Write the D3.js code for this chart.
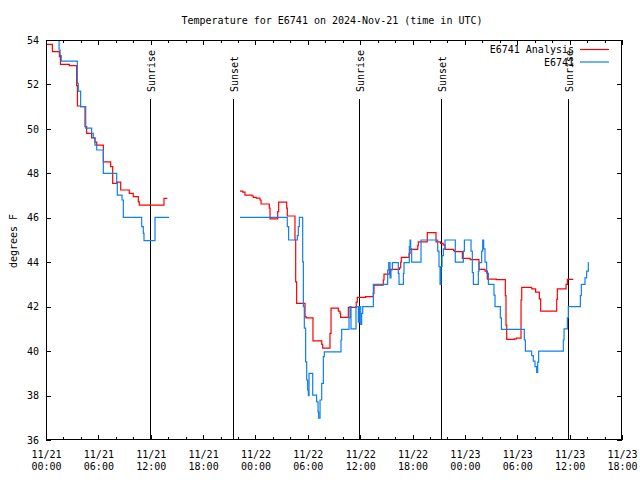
<!DOCTYPE html>
<html><head><meta charset="utf-8">
<script src="https://cdn.jsdelivr.net/npm/d3@7"></script>
<style>
body{margin:0;background:#fff}
svg text{font-family:"DejaVu Sans Mono","Liberation Mono",monospace;font-size:10px;fill:#000}
</style>
</head><body>
<svg id="chart" width="640" height="480"></svg>
<script>
// ---------------- data ----------------
const titleText = "Temperature for E6741 on 2024-Nov-21 (time in UTC)";
const yLabel = "degrees F";
const startUtc = Date.UTC(2024, 10, 21, 0, 0);   // hours below are offsets from this time
const endHours = 66;
const xMajorTickHours = [0, 6, 12, 18, 24, 30, 36, 42, 48, 54, 60, 66];
const xMinorTickHours = [2, 4, 8, 10, 14, 16, 20, 22, 26, 28, 32, 34, 38, 40, 44, 46, 50, 52, 56, 58, 62, 64];
const yTicks = [36, 38, 40, 42, 44, 46, 48, 50, 52, 54];
const seriesNames = ["E6741 Analysis", "E6741"];

const sunLabels = ["Sunrise", "Sunset", "Sunrise", "Sunset", "Sunrise"];
const sunHours  = [11.95, 21.37, 35.9, 45.3, 59.85];

// E6741 Analysis (red), step data; null = gap
const redHours = [0.0,0.73,1.53,1.65,2.67,3.51,3.6,3.97,4.47,4.66,5.23,5.61,5.81,6.57,7.41,7.64,8.17,8.56,9.55,10.0,10.58,10.69,13.52,13.9,
  14.0,
  22.23,22.55,22.8,23.6,23.76,24.1,24.52,24.64,25.59,25.67,26.55,26.66,27.58,27.65,28.53,28.61,28.72,29.68,29.8,30.59,31.6,31.7,32.54,32.66,33.5,33.69,33.76,34.64,35.55,35.67,36.6,37.5,37.58,38.65,38.73,39.34,40.5,40.64,40.71,41.6,41.71,42.6,42.66,43.69,44.69,45.2,45.5,45.72,46.7,46.79,47.71,48.6,49.61,50.3,50.57,51.6,52.63,52.71,52.79,53.65,53.9,54.43,54.51,55.65,56.1,56.53,56.68,58.52,58.59,59.59,59.74,60.42];
const redTemps = [53.8,53.48,53.25,52.9,52.85,51.95,51.03,51.0,50.1,49.8,49.6,49.4,49.27,48.52,48.3,47.55,47.6,47.25,47.1,46.95,46.72,46.57,46.87,46.87,
  null,
  47.2,47.15,47.02,46.98,46.92,46.88,46.8,46.62,46.43,45.95,46.28,46.7,46.43,46.08,45.0,43.12,42.15,41.55,41.5,40.46,40.3,40.13,40.8,41.93,41.8,41.7,41.52,41.97,42.2,42.42,42.45,42.6,42.97,43.2,43.46,43.68,43.75,44.0,44.22,44.4,44.58,44.75,44.92,45.33,44.92,44.85,44.78,44.58,44.53,44.48,44.17,44.12,43.68,43.6,43.24,43.22,42.5,41.17,40.53,40.55,40.58,42.3,42.87,42.8,42.65,42.35,41.8,42.33,42.8,43.0,43.23,43.23];

// E6741 observations (blue)
const blueHours = [1.4,1.5,1.62,1.75,3.59,3.7,3.97,4.55,5.23,5.42,5.61,5.81,6.57,8.1,8.17,8.71,8.86,10.96,11.15,11.23,12.49,14.1,
  14.2,
  22.23,27.65,27.8,28.8,28.91,29.03,29.41,29.49,29.6,29.75,29.87,29.98,30.06,30.14,30.56,31.01,31.17,31.24,31.4,31.59,31.78,31.89,33.8,33.88,34.72,34.83,34.95,35.52,35.79,35.9,36.06,36.17,36.29,37.51,39.15,39.27,39.42,39.53,39.69,40.37,40.45,40.95,41.02,41.63,41.71,41.79,41.9,42.97,
  44.88,45.03,45.15,45.26,45.38,45.53,45.72,46.9,47.82,47.94,48.7,48.85,48.97,49.54,49.62,49.92,50.04,50.15,50.3,50.49,50.69,51.33,51.45,52.06,52.18,54.81,54.93,55.65,55.84,56.03,56.22,56.34,56.45,59.28,59.36,59.74,59.85,61.23,61.34,61.76,61.95,62.14,62.18];
const blueTemps = [54.4,53.55,53.3,53.05,52.05,51.7,51.0,50.03,49.8,49.6,49.27,49.05,48.0,47.55,47.02,46.8,46.02,45.6,45.3,44.97,46.02,46.02,
  null,
  46.02,45.6,45.0,45.2,45.6,46.02,44.02,42.0,41.03,39.52,38.7,38.25,38.0,39.0,38.02,37.72,37.27,36.98,37.8,38.55,39.75,39.97,40.5,40.98,41.5,42.0,41.0,42.0,41.3,42.0,41.2,41.7,42.0,43.0,43.65,43.98,43.3,43.65,43.98,43.5,43.0,43.5,43.98,44.7,45.0,44.6,44.0,45.0,
  44.5,43.8,43.0,43.8,44.3,44.6,45.0,44.0,44.5,45.0,44.5,43.53,43.0,43.6,43.98,44.5,45.0,44.6,44.0,43.5,43.0,42.52,42.0,41.5,40.98,40.5,40.0,39.8,39.55,39.3,39.04,39.5,40.0,40.5,41.0,41.5,42.0,42.5,43.0,43.3,43.6,43.98,43.98];

// ---------------- drawing ----------------
const toDate = h => new Date(startUtc + h * 3600e3);
const L = 46, R = 622, T = 40, B = 440;
const svg = d3.select("#chart");

const x = d3.scaleUtc().domain([toDate(0), toDate(endHours)]).range([L, R]);
const y = d3.scaleLinear().domain([36, 54]).range([B, T]);

svg.append("defs").append("clipPath").attr("id", "plotclip")
  .append("rect").attr("x", L).attr("y", T).attr("width", R - L).attr("height", B - T);

// title
svg.append("text").attr("x", 332).attr("y", 24).attr("text-anchor", "middle").text(titleText);
// y label
svg.append("text").attr("transform", "translate(13,241) rotate(-90)")
  .attr("text-anchor", "middle").attr("dominant-baseline", "central").text(yLabel);

function styleAxis(g) {
  g.select(".domain").remove();
  g.selectAll("line").attr("stroke", "#000").attr("shape-rendering", "crispEdges");
  g.attr("font-family", null).attr("font-size", null);
}

const fmtDay = d3.utcFormat("%m/%d"), fmtTime = d3.utcFormat("%H:%M");
// bottom major
const gxb = svg.append("g").attr("transform", `translate(0,${B})`)
  .call(d3.axisBottom(x).tickValues(xMajorTickHours.map(toDate)).tickSize(-5).tickFormat(d => fmtDay(d)));
styleAxis(gxb);
gxb.selectAll(".tick text").each(function (d) {
  const t = d3.select(this).attr("dy", null).attr("y", null).text(null);
  t.append("tspan").attr("x", 0).attr("y", 17.5).text(fmtDay(d));
  t.append("tspan").attr("x", 0).attr("y", 29.5).text(fmtTime(d));
});
// bottom minor
styleAxis(svg.append("g").attr("transform", `translate(0,${B})`)
  .call(d3.axisBottom(x).tickValues(xMinorTickHours.map(toDate)).tickSize(-3).tickFormat("")));
// top major/minor
styleAxis(svg.append("g").attr("transform", `translate(0,${T})`)
  .call(d3.axisTop(x).tickValues(xMajorTickHours.map(toDate)).tickSize(-5).tickFormat("")));
styleAxis(svg.append("g").attr("transform", `translate(0,${T})`)
  .call(d3.axisTop(x).tickValues(xMinorTickHours.map(toDate)).tickSize(-3).tickFormat("")));
// left
const gyl = svg.append("g").attr("transform", `translate(${L},0)`)
  .call(d3.axisLeft(y).tickValues(yTicks).tickSize(-5).tickPadding(7).tickFormat(d3.format("d")));
styleAxis(gyl);
// right
styleAxis(svg.append("g").attr("transform", `translate(${R},0)`)
  .call(d3.axisRight(y).tickValues(yTicks).tickSize(-5).tickFormat("")));

// sun lines
sunHours.forEach((h, i) => {
  const sx = Math.round(x(toDate(h))) + 0.5;
  svg.append("line").attr("x1", sx).attr("x2", sx).attr("y1", 99).attr("y2", B)
    .attr("stroke", "#000").attr("stroke-width", 1);
  svg.append("text").attr("transform", `translate(${sx + 0.5},92) rotate(-90)`)
    .attr("text-anchor", "start").attr("dominant-baseline", "central").text(sunLabels[i]);
});

// series
const line = d3.line()
  .defined(d => d.v != null)
  .x(d => x(toDate(d.h)))
  .y(d => y(d.v))
  .curve(d3.curveStepAfter);
const redData = redHours.map((h, i) => ({h, v: redTemps[i]}));
const blueData = blueHours.map((h, i) => ({h, v: blueTemps[i]}));
const plot = svg.append("g").attr("clip-path", "url(#plotclip)");
plot.append("path").datum(redData).attr("d", line).attr("fill", "none")
  .attr("stroke", "#ff0000").attr("stroke-width", 1.2);
plot.append("path").datum(blueData).attr("d", line).attr("fill", "none")
  .attr("stroke", "#0f80ee").attr("stroke-width", 1.2);

// legend
const legendColors = ["#ff0000", "#0f80ee"];
seriesNames.forEach((n, i) => {
  const ly = 49.5 + i * 12.5;
  svg.append("text").attr("x", 574).attr("y", ly).attr("text-anchor", "end")
    .attr("dominant-baseline", "central").text(n);
  svg.append("line").attr("x1", 580).attr("x2", 609).attr("y1", ly).attr("y2", ly)
    .attr("stroke", legendColors[i]).attr("stroke-width", 1.2);
});

// border
svg.append("rect").attr("x", L + 0.5).attr("y", T + 0.5).attr("width", R - L - 1).attr("height", B - T - 1)
  .attr("fill", "none").attr("stroke", "#000").attr("stroke-width", 1);
</script>
</body></html>
